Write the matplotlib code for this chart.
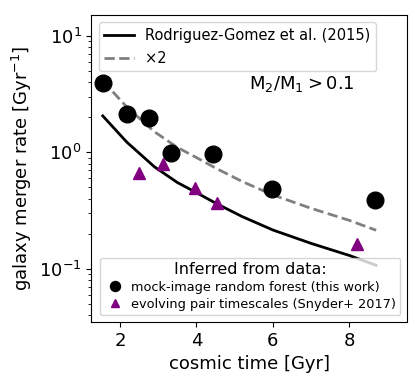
"""
Galaxy merger rate vs cosmic time
"""
import numpy as np
import matplotlib
matplotlib.use("Agg")
import matplotlib.pyplot as plt

# random forest merger rates (this work)
rf_time = [1.55, 2.18, 2.76, 3.34, 4.43, 5.98, 8.68]
rf_rate = [3.95, 2.12, 1.95, 0.98, 0.97, 0.48, 0.39]

# evolving pair timescales (Snyder+ 2017)
pair_time = [2.5, 3.13, 3.96, 4.54, 8.2]
pair_rate = [0.66, 0.80, 0.49, 0.37, 0.164]

# Rodriguez-Gomez et al. (2015)
rg_time = [1.55, 2.18, 2.9, 3.5, 4.0, 4.54, 5.2, 6.0, 7.0, 8.0, 8.7]
rg_rate = [2.05, 1.22, 0.75, 0.55, 0.45, 0.36, 0.28, 0.215, 0.165, 0.13, 0.107]


def main():
    fig, ax = plt.subplots(figsize=(4.15, 3.8), dpi=100)
    fig.subplots_adjust(left=0.22, right=0.98, top=0.96, bottom=0.153)

    rg = np.array(rg_rate)
    l1, = ax.plot(rg_time, rg, "-", color="black", lw=2,
                  label="Rodriguez-Gomez et al. (2015)")
    l2, = ax.plot(rg_time, 2 * rg, "--", color="gray", lw=2, label="×2")

    p1, = ax.plot(rf_time, rf_rate, "o", color="black", ms=12, ls="none",
                  label="mock-image random forest (this work)")
    p2, = ax.plot(pair_time, pair_rate, "^", color="purple", ms=9, ls="none",
                  label="evolving pair timescales (Snyder+ 2017)")

    ax.set_yscale("log")
    ax.set_xlim(1.25, 9.5)
    ax.set_ylim(0.035, 15)
    ax.set_xticks([2, 4, 6, 8])
    ax.tick_params(labelsize=13)
    ax.set_xlabel("cosmic time [Gyr]", fontsize=13)
    ax.set_ylabel("galaxy merger rate [Gyr$^{-1}$]", fontsize=13)

    ax.text(0.5, 0.76, r"$\mathrm{M_2/M_1 > 0.1}$", transform=ax.transAxes,
            fontsize=13)

    leg1 = ax.legend(handles=[l1, l2], loc="upper left", fontsize=10.5)
    ax.add_artist(leg1)
    ax.legend(handles=[p1, p2], loc="lower right", fontsize=9.3,
              title="Inferred from data:", title_fontsize=11.5,
              markerscale=0.6, handlelength=1.5, handletextpad=0.5,
              borderpad=0.35, labelspacing=0.3)

    fig.savefig("out.png")
    plt.close(fig)


if __name__ == '__main__':
    main()
